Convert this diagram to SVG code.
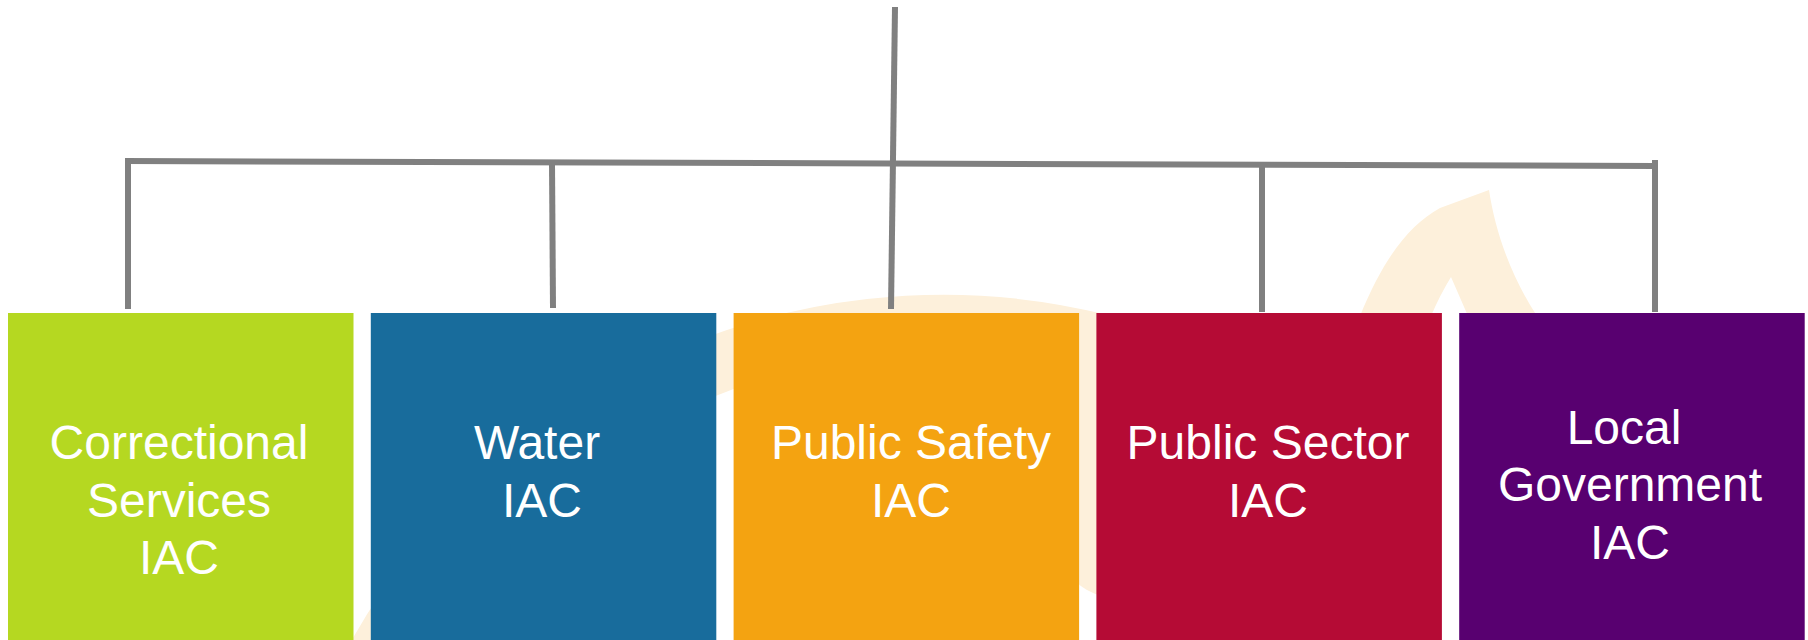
<svg xmlns="http://www.w3.org/2000/svg" width="1808" height="640" viewBox="0 0 1808 640">
<style>
.wm{fill:#FDF0DB;stroke:none}
.wmr{fill:none;stroke:#FDF0DB;stroke-width:58}
.ln{stroke:#808080;stroke-width:6;fill:none;stroke-linecap:butt}
.lbl{font-family:"Liberation Sans",Arial,sans-serif;font-size:48px;fill:#FFFFFF;text-anchor:middle}
</style>
<rect x="0" y="0" width="1808" height="640" fill="#FFFFFF"/>
<g id="watermark">
<path class="wmr" d="M330,758 A650,650 0 0,1 1100,343"/>
<path class="wm" d="M1074,318 L1102,318 L1102,596 Q1086,592 1074,580 Z"/>
<path class="wm" d="M1360,316 C1385,255 1410,225 1440,208 L1489,190 C1495,230 1510,275 1537,316 L1468,316 L1451,277 Q1440,295 1431,316 Z"/>
</g>
<g id="connectors">
<line class="ln" x1="895" y1="7" x2="891" y2="309"/>
<line class="ln" x1="125" y1="161" x2="1655" y2="166"/>
<line class="ln" x1="128" y1="160" x2="128" y2="309"/>
<line class="ln" x1="552" y1="163" x2="553" y2="308"/>
<line class="ln" x1="1262" y1="165" x2="1262" y2="312"/>
<line class="ln" x1="1655" y1="160" x2="1655" y2="312"/>
</g>
<g id="node-correctional">
<rect x="8" y="313" width="345.5" height="327" fill="#B5D821"/>
<text class="lbl" x="179" y="459">Correctional</text>
<text class="lbl" x="179" y="517">Services</text>
<text class="lbl" x="179" y="574">IAC</text>
</g>
<g id="node-water">
<rect x="370.8" y="313" width="345.5" height="327" fill="#186C9C"/>
<text class="lbl" x="537" y="459">Water</text>
<text class="lbl" x="542" y="517">IAC</text>
</g>
<g id="node-public-safety">
<rect x="733.6" y="313" width="345.5" height="327" fill="#F4A311"/>
<text class="lbl" x="911" y="459">Public Safety</text>
<text class="lbl" x="911" y="517">IAC</text>
</g>
<g id="node-public-sector">
<rect x="1096.4" y="313" width="345.5" height="327" fill="#B50B35"/>
<text class="lbl" x="1268" y="459">Public Sector</text>
<text class="lbl" x="1268" y="517">IAC</text>
</g>
<g id="node-local-government">
<rect x="1459.2" y="313" width="345.5" height="327" fill="#580070"/>
<text class="lbl" x="1624" y="444">Local</text>
<text class="lbl" x="1630" y="501">Government</text>
<text class="lbl" x="1630" y="559">IAC</text>
</g>
</svg>
